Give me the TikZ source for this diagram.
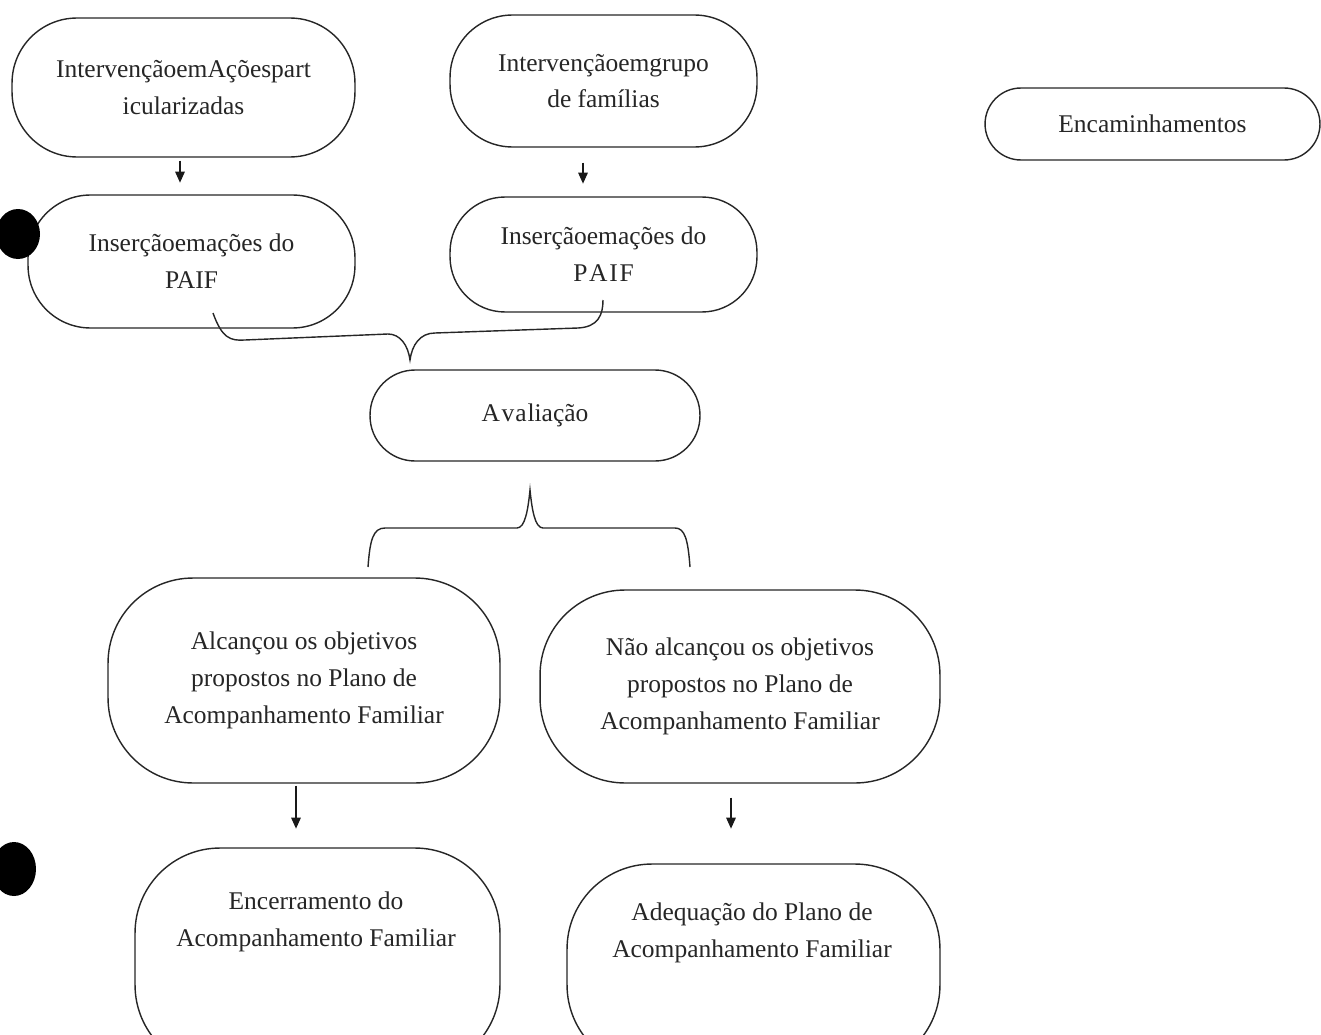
\documentclass[tikz,border=0pt]{standalone}
\usepackage{fontspec}
\setmainfont{Liberation Serif}
\usetikzlibrary{arrows.meta}
\begin{document}
\begin{tikzpicture}[x=0.02cm,y=-0.02cm,
  every node/.style={font=\fontsize{14.5}{21}\selectfont, text=black!85},
  stadium/.style={draw=black!85, line width=0.8pt, fill=white, align=center, inner sep=0pt},
  label/.style={align=center, inner sep=0pt},
  flow/.style={draw=black!90, line width=0.8pt, -{Triangle[length=0.22cm,width=0.19cm]}},
  bracket/.style={draw=black!85, line width=0.8pt},
  blob/.style={fill=black}]
  \useasboundingbox (0,0) rectangle (1321,1034);
  \clip (0,0) rectangle (1321,1034);

  % top row
  \node[stadium, minimum width=6.86cm, minimum height=2.78cm, rounded corners=1.3cm]
    (acoes) at (183.5,87.5) {IntervençãoemAçõespart\\icularizadas};
  \node[stadium, minimum width=6.14cm, minimum height=2.64cm, rounded corners=1.25cm]
    (grupo) at (603.5,81) {Intervençãoemgrupo\\de famílias};
  \node[stadium, minimum width=6.7cm, minimum height=1.44cm, rounded corners=0.72cm]
    (encam) at (1152.5,124) {Encaminhamentos};

  % insertion into PAIF actions
  \node[stadium, minimum width=6.54cm, minimum height=2.66cm, rounded corners=1.25cm]
    (paifa) at (191.5,261.5) {Inserçãoemações do\\PAIF};
  \node[stadium, minimum width=6.14cm, minimum height=2.3cm, rounded corners=1.1cm]
    (paifb) at (603.5,254.5) {Inserçãoemações do\\P\kern1ptA\kern1ptI\kern1ptF};

  % evaluation
  \node[stadium, minimum width=6.6cm, minimum height=1.82cm, rounded corners=0.9cm]
    (aval) at (535,415.5) {A\kern1ptv\kern0.5pta\kern0.5ptliação};

  % outcomes
  \node[stadium, minimum width=7.84cm, minimum height=4.1cm, rounded corners=1.7cm]
    (sim) at (304,680.5) {Alcançou os objetivos\\propostos no Plano de\\Acompanhamento Familiar};
  \node[stadium, minimum width=8.0cm, minimum height=3.86cm, rounded corners=1.7cm]
    (nao) at (740,686.5) {Não alcançou os objetivos\\propostos no Plano de\\Acompanhamento Familiar};

  % closing steps
  \node[stadium, minimum width=7.3cm, minimum height=4.44cm, rounded corners=1.7cm]
    (encer) at (317.5,959) {};
  \node[label] (encert) at (316,922) {Encerramento do\\Acompanhamento Familiar};
  \node[stadium, minimum width=7.46cm, minimum height=4.12cm, rounded corners=1.7cm]
    (adeq) at (753.5,967) {};
  \node[label] (adeqt) at (752,933) {Adequação do Plano de\\Acompanhamento Familiar};

  % markers on the left margin
  \fill[blob] (18,234) ellipse [x radius=22, y radius=25];
  \fill[blob] (14,869) ellipse [x radius=22, y radius=27];

  % arrows
  \draw[flow] ([xshift=-0.07cm,yshift=-0.06cm]acoes.south) -- ++(0,-0.44cm);
  \draw[flow] ([xshift=-0.41cm,yshift=-0.3cm]grupo.south) -- ++(0,-0.42cm);
  \draw[flow] ([xshift=-0.16cm,yshift=-0.04cm]sim.south) -- ++(0,-0.86cm);
  \draw[flow] ([xshift=-0.18cm,yshift=-0.28cm]nao.south) -- ++(0,-0.62cm);

  % brace joining both insertions into the evaluation
  \coordinate (ba) at (213,313);
  \coordinate (bb) at (603,300);
  \coordinate (btip) at (410,360);
  \draw[bracket] (ba) .. controls (222,338) and (230,341) .. (245,340) -- (388,334)
    .. controls (400,334) and (408,345) .. (btip)
    .. controls (412,345) and (420,333) .. (435,333) -- (578,328)
    .. controls (598,327) and (603,315) .. (bb);

  % brace splitting the evaluation into two outcomes
  \coordinate (ctip) at (530,490);
  \coordinate (cl) at (368,567);
  \coordinate (cr) at (690,567);
  \draw[bracket] (cl) .. controls (370,540) and (373,528) .. (385,528) -- (517,528)
    .. controls (525,528) and (528,510) .. (ctip)
    .. controls (532,510) and (535,528) .. (543,528) -- (675,528)
    .. controls (685,528) and (688,540) .. (cr);
\end{tikzpicture}
\end{document}
